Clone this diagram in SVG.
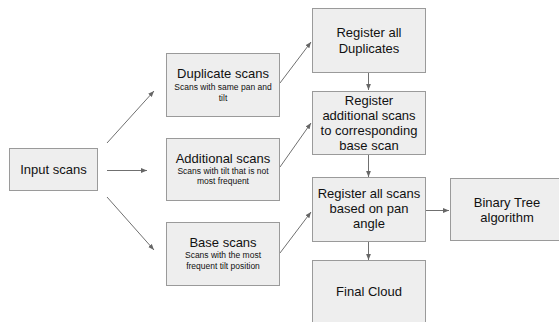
<svg xmlns="http://www.w3.org/2000/svg" width="559" height="322" viewBox="0 0 559 322">
<defs>
<marker id="ah" viewBox="0 0 10 10" refX="10" refY="5" markerWidth="6" markerHeight="6" markerUnits="userSpaceOnUse" orient="auto">
<path d="M0,1 L10,5 L0,9 z" fill="#666"/>
</marker>
<style>
.box{fill:#eeeeee;stroke:#9a9a9a;stroke-width:1}
.t{font-family:"Liberation Sans",Arial,sans-serif;font-size:13px;fill:#111;text-anchor:middle}
.s{font-family:"Liberation Sans",Arial,sans-serif;font-size:8.5px;fill:#111;text-anchor:middle}
.c{stroke:#707070;stroke-width:1;fill:none;marker-end:url(#ah)}
</style>
</defs>
<rect width="559" height="322" fill="#fff"/>
<g id="connectors">
<line class="c" x1="107" y1="143" x2="154" y2="91"/>
<line class="c" x1="107" y1="170.5" x2="147" y2="170.5"/>
<line class="c" x1="107" y1="197" x2="154" y2="250"/>
<line class="c" x1="280" y1="83" x2="311" y2="42"/>
<line class="c" x1="280" y1="167" x2="311" y2="123"/>
<line class="c" x1="280" y1="253" x2="311" y2="212"/>
<line class="c" x1="368.5" y1="72" x2="368.5" y2="90"/>
<line class="c" x1="368.5" y1="154" x2="368.5" y2="177"/>
<line class="c" x1="368.5" y1="241" x2="368.5" y2="260"/>
<line class="c" x1="425" y1="210.5" x2="449" y2="210.5"/>
</g>
<g id="input">
<rect class="box" x="9.5" y="148.5" width="88" height="42"/>
<text class="t" x="53.5" y="174">Input scans</text>
</g>
<g id="duplicate">
<rect class="box" x="166.5" y="53.5" width="113" height="63"/>
<text class="t" x="223" y="78">Duplicate scans</text>
<text class="s" x="223" y="90">Scans with same pan and</text>
<text class="s" x="223" y="101">tilt</text>
</g>
<g id="additional">
<rect class="box" x="166.5" y="138.5" width="113" height="62"/>
<text class="t" x="223" y="163">Additional scans</text>
<text class="s" x="223" y="174">Scans with tilt that is not</text>
<text class="s" x="223" y="184">most frequent</text>
</g>
<g id="base">
<rect class="box" x="166.5" y="222.5" width="113" height="63"/>
<text class="t" x="223" y="247">Base scans</text>
<text class="s" x="223" y="258">Scans with the most</text>
<text class="s" x="223" y="269">frequent tilt position</text>
</g>
<g id="regdup">
<rect class="box" x="312.5" y="8.5" width="113" height="64"/>
<text class="t" x="369" y="37">Register all</text>
<text class="t" x="369" y="53">Duplicates</text>
</g>
<g id="regadd">
<rect class="box" x="312.5" y="91.5" width="113" height="63"/>
<text class="t" x="369" y="105">Register</text>
<text class="t" x="369" y="120">additional scans</text>
<text class="t" x="369" y="135">to corresponding</text>
<text class="t" x="369" y="150">base scan</text>
</g>
<g id="regall">
<rect class="box" x="312.5" y="177.5" width="113" height="64"/>
<text class="t" x="369" y="198">Register all scans</text>
<text class="t" x="369" y="213">based on pan</text>
<text class="t" x="369" y="228">angle</text>
</g>
<g id="binary">
<rect class="box" x="450.5" y="178.5" width="114" height="62"/>
<text class="t" x="507" y="207">Binary Tree</text>
<text class="t" x="507" y="222">algorithm</text>
</g>
<g id="final">
<rect class="box" x="312.5" y="260.5" width="113" height="66"/>
<text class="t" x="369" y="296">Final Cloud</text>
</g>
</svg>
